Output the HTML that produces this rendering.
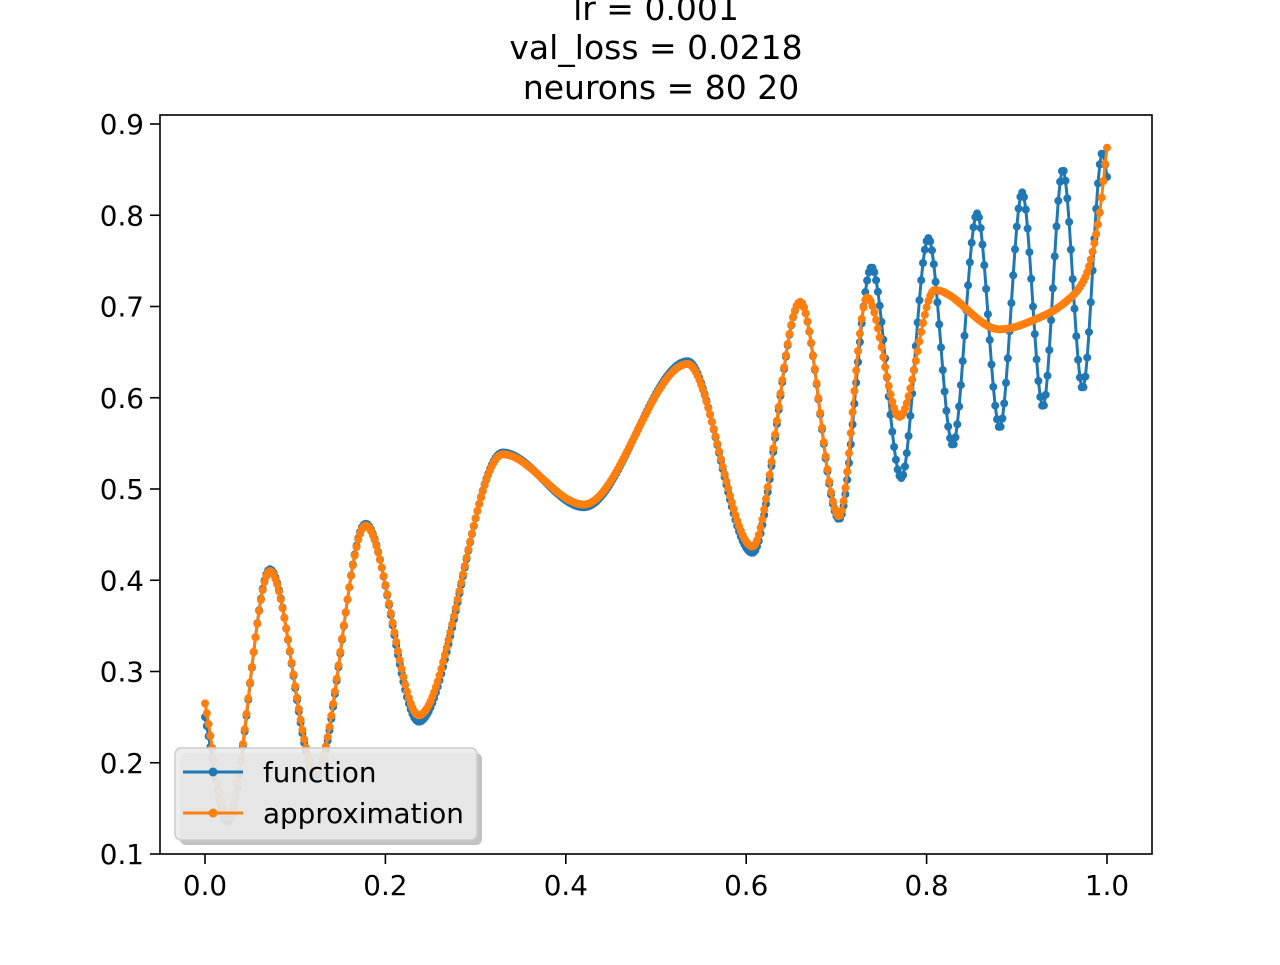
<!DOCTYPE html>
<html><head><meta charset="utf-8"><style>
body{margin:0;background:#fff}
svg text{font-family:"DejaVu Sans","Liberation Sans",sans-serif;fill:#000}
</style></head><body>
<svg id="chart" width="1280" height="960" xmlns="http://www.w3.org/2000/svg">
<g font-size="33" text-anchor="middle">
<text x="656" y="20">lr = 0.001</text>
<text x="656" y="59">val_loss = 0.0218</text>
<text x="661" y="99">neurons = 80 20</text>
</g>
<g id="plot"></g>
<g id="axes"></g>
<g id="legend"></g>
</svg>
<script>
const xTicks=[0,0.2,0.4,0.6,0.8,1.0];
const xTickLabels=["0.0","0.2","0.4","0.6","0.8","1.0"];
const yTicks=[0.1,0.2,0.3,0.4,0.5,0.6,0.7,0.8,0.9];
const yTickLabels=["0.1","0.2","0.3","0.4","0.5","0.6","0.7","0.8","0.9"];
const funcX=[0,0.025,0.072,0.123,0.178,0.237,0.33,0.42,0.535,0.607,0.66,0.703,0.739,0.772,0.802,0.829,0.856,0.881,0.906,0.929,0.951,0.973,0.995,1.0];
const funcY=[0.25,0.135,0.412,0.185,0.462,0.245,0.54,0.48,0.64,0.43,0.705,0.467,0.743,0.512,0.775,0.548,0.802,0.567,0.825,0.59,0.85,0.61,0.869,0.842];
const apprX=[0,0.025,0.072,0.123,0.178,0.237,0.33,0.42,0.535,0.607,0.66,0.703,0.734,0.770,0.809,0.881,0.93,0.96,0.975,0.99,1.0];
const apprY=[0.265,0.14,0.41,0.19,0.46,0.252,0.538,0.483,0.637,0.437,0.705,0.47,0.71,0.579,0.718,0.675,0.69,0.71,0.73,0.79,0.874];
const NS='http://www.w3.org/2000/svg';
const L=160,R=1152,T=115,B=854;
const sx=v=>205+(v-0)*902;
const sy=v=>854-(v-0.1)*912.5;
function mk(tag,attrs,parent){const e=document.createElementNS(NS,tag);for(const k in attrs)e.setAttribute(k,attrs[k]);parent.appendChild(e);return e;}
function mono(xs,ys){const n=xs.length,d=[],m=new Array(n);
for(let i=0;i<n-1;i++)d.push((ys[i+1]-ys[i])/(xs[i+1]-xs[i]));
m[0]=d[0];m[n-1]=d[n-2];
for(let i=1;i<n-1;i++){m[i]=(d[i-1]*d[i]<=0)?0:(2/(1/d[i-1]+1/d[i]));}
return x=>{let i=0;while(i<n-2&&x>xs[i+1])i++;const h=xs[i+1]-xs[i],t=(x-xs[i])/h;
const h00=2*t*t*t-3*t*t+1,h10=t*t*t-2*t*t+t,h01=-2*t*t*t+3*t*t,h11=t*t*t-t*t;
return h00*ys[i]+h10*h*m[i]+h01*ys[i+1]+h11*h*m[i+1];};}
const plot=document.getElementById('plot');
function series(xs,ys,color,name){
const f=mono(xs,ys);const g=mk('g',{},plot);


let d='';const pts=[];
for(let i=0;i<=500;i++){const x=i/500;const px=sx(x),py=sy(f(x));pts.push([px,py]);d+=(i?'L':'M')+px.toFixed(1)+' '+py.toFixed(1);}
const p=mk('path',{d:d,fill:'none',stroke:color,'stroke-width':3},g);


for(const [px,py] of pts){const c=mk('circle',{cx:px.toFixed(1),cy:py.toFixed(1),r:4,fill:color},g);

}
}
series(funcX,funcY,'#1f77b4','function-series');
series(apprX,apprY,'#ff7f0e','approximation-series');
const ax=document.getElementById('axes');
const frame=mk('rect',{x:L,y:T,width:R-L,height:B-T,fill:'none',stroke:'#000','stroke-width':1.6},ax);


xTicks.forEach((v,i)=>{const x=sx(v);mk('line',{x1:x,x2:x,y1:B,y2:B+10,stroke:'#000','stroke-width':1.6},ax);
const t=mk('text',{x:x,y:B+41,'font-size':27.8,'text-anchor':'middle'},ax);t.textContent=xTickLabels[i];

});
yTicks.forEach((v,i)=>{const y=sy(v);mk('line',{x1:L-10,x2:L,y1:y,y2:y,stroke:'#000','stroke-width':1.6},ax);
const t=mk('text',{x:L-16,y:y+10,'font-size':27.8,'text-anchor':'end'},ax);t.textContent=yTickLabels[i];

});
const lg=document.getElementById('legend');


mk('rect',{x:180,y:753,width:302,height:92,rx:6,fill:'#999',opacity:0.6},lg);
mk('rect',{x:175,y:748,width:302,height:92,rx:6,fill:'#ebebeb','fill-opacity':0.88,stroke:'#ccc','stroke-width':1.5},lg);
[['function','#1f77b4',772],['approximation','#ff7f0e',813]].forEach(([lab,col,y])=>{
const e=mk('g',{},lg);


mk('line',{x1:183,x2:243,y1:y,y2:y,stroke:col,'stroke-width':3},e);
mk('circle',{cx:213,cy:y,r:4.5,fill:col},e);
const t=mk('text',{x:263,y:y+10,'font-size':27.8},e);t.textContent=lab;});
</script>
</body></html>
